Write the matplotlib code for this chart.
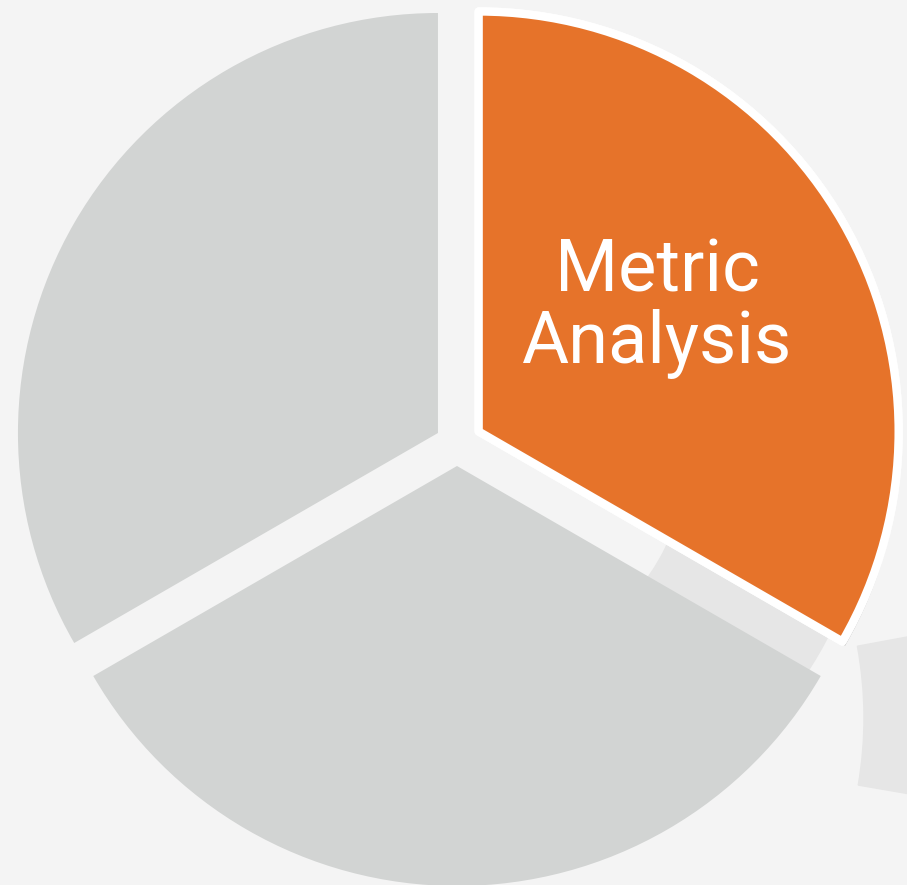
import matplotlib
matplotlib.use('Agg')
import matplotlib.pyplot as plt
import matplotlib.patheffects as pe
from matplotlib.patches import Wedge

# three equal segments, clockwise from 12 o'clock
segments = ['Metric\nAnalysis', '', '']
sizes = [1, 1, 1]
colors = ['#e6732a', '#d2d4d3', '#d2d4d3']
explode = [25, 22, 22]  # pie uses these as data units here

W, H = 907, 885
fig = plt.figure(figsize=(W / 100, H / 100), dpi=100)
fig.patch.set_facecolor('#f4f4f4')
ax = fig.add_axes([0, 0, 1, 1])

cx, cy, R = 457, H - 444, 420

# light placeholder ring in the gap and the piece of the next ring on the right
ax.add_patch(Wedge((cx, cy), R - 2, -38, -22, width=R - 235, color='#e6e6e6', zorder=0))
ax.add_patch(Wedge((470, H - 718), 760, -9.8, 10.5, width=760 - 394, color='#e6e6e6', zorder=0))

wedges, _ = ax.pie(sizes, colors=colors, explode=explode, startangle=90,
                   counterclock=False, radius=R, center=(cx, cy), frame=True)
ax.set_xlim(0, W)
ax.set_ylim(0, H)
ax.set_aspect('equal')
ax.axis('off')
for w in wedges:
    w.set_zorder(1)

hl = wedges[0]
hl.set_edgecolor('white')
hl.set_linewidth(6)
hl.set_joinstyle('round')
hl.set_zorder(2)
hl.set_path_effects([pe.withSimplePatchShadow(offset=(2, -3), shadow_rgbFace='#888888', alpha=0.55),
                     pe.Normal()])

ax.text(657, H - 308, segments[0], color='white', fontsize=52, ha='center', va='center',
        family=['Roboto', 'DejaVu Sans'], linespacing=1.05, zorder=3)

fig.savefig('out.png', dpi=100, facecolor=fig.get_facecolor())
